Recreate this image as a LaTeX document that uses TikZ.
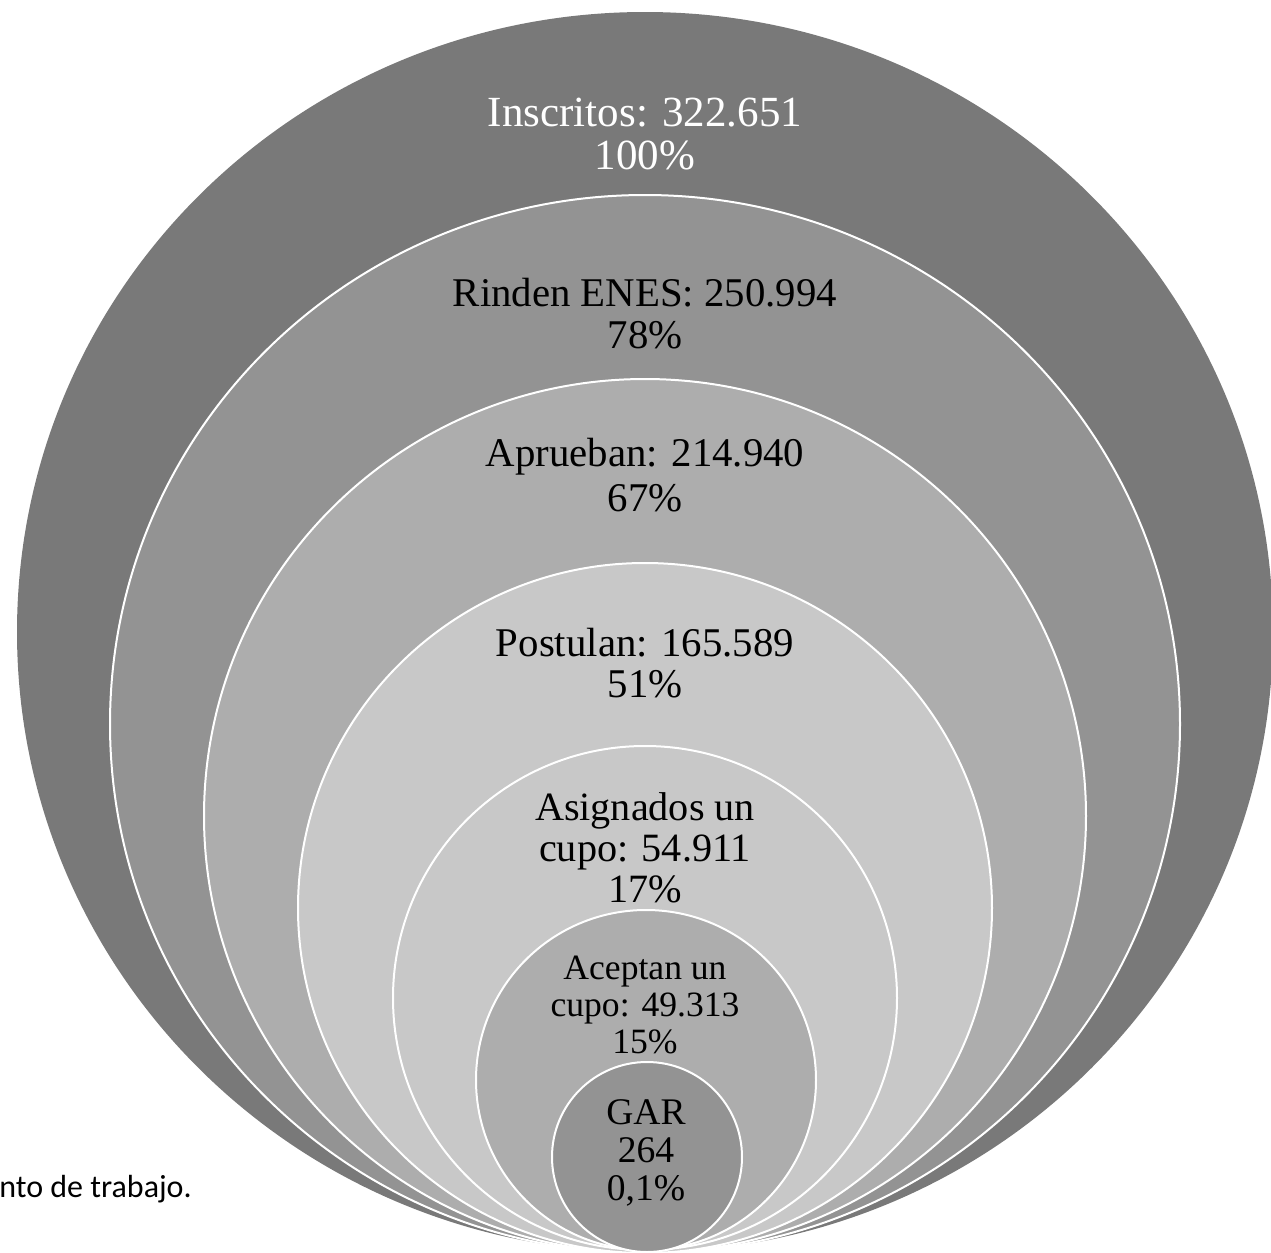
\documentclass[tikz,border=0pt]{standalone}
\usepackage{fontspec}
\setmainfont{Liberation Serif}
\newfontfamily\notefont{Carlito}

\definecolor{ringA}{HTML}{797979}
\definecolor{ringB}{HTML}{939393}
\definecolor{ringC}{HTML}{ADADAD}
\definecolor{ringD}{HTML}{C8C8C8}

\begin{document}
\begin{tikzpicture}[x=0.5pt,y=-0.5pt,
    ring/.style={draw=white, line width=1pt},
    lbl/.style={align=center, inner sep=0pt}]
    \useasboundingbox (0,0) rectangle (1271,1253);
    % stacked circles, all resting on the same bottom point
    \fill [fill=ringA] (645,632) ellipse [x radius=628, y radius=620];
    \filldraw [ring, fill=ringB] (645,724) ellipse [x radius=535, y radius=529];
    \filldraw [ring, fill=ringC] (645,816) ellipse [x radius=441, y radius=437];
    \filldraw [ring, fill=ringD] (645,908) ellipse [x radius=347, y radius=345];
    \filldraw [ring, fill=ringD] (645,998) ellipse [x radius=252, y radius=252];
    \filldraw [ring, fill=ringC] (646,1080) ellipse [x radius=170, y radius=170];
    \filldraw [ring, fill=ringB] (647,1157) ellipse [x radius=95, y radius=95];
    \node (inscritos) [lbl, text=white, font=\fontsize{21.5}{21.5}\selectfont] at (645,134) {Inscritos: 322.651\\100\%};
    \node (rinden) [lbl, font=\fontsize{20.4}{21}\selectfont] at (645,314) {Rinden ENES: 250.994\\78\%};
    \node (aprueban) [lbl, font=\fontsize{20.4}{22.5}\selectfont] at (645,475) {Aprueban: 214.940\\67\%};
    \node (postulan) [lbl, font=\fontsize{20.4}{20.5}\selectfont] at (645,663) {Postulan: 165.589\\51\%};
    \node (asignados) [lbl, font=\fontsize{20.1}{20.5}\selectfont] at (645,848) {Asignados un\\cupo: 54.911\\17\%};
    \node (aceptan) [lbl, font=\fontsize{17.8}{18.5}\selectfont] at (645,1005) {Aceptan un\\cupo: 49.313\\15\%};
    \node (gar) [lbl, font=\fontsize{18.8}{18.8}\selectfont] at (646,1153) {GAR\\264\\0,1\%};
    \node (nota) [anchor=base west, inner sep=0pt, font=\notefont\fontsize{16}{16}\selectfont] at (-1,1197) {nto de trabajo.};
\end{tikzpicture}
\end{document}
